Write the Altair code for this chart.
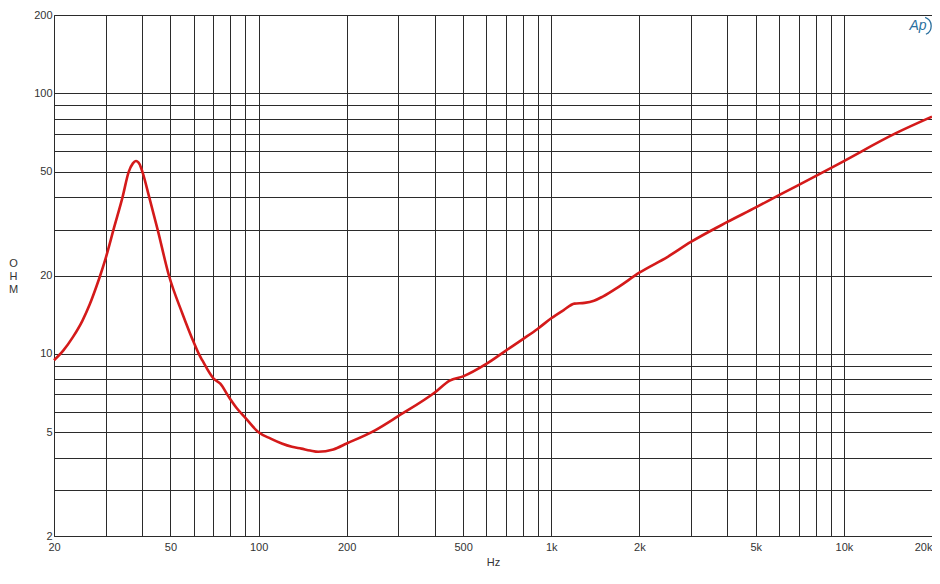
import json
import altair as alt
import pandas as pd

# ---- data ----
freq_hz = [20, 21.5, 23.2, 25, 26.5, 28, 28.6, 29.9, 32.2, 34.3, 36, 37.2, 38.1, 39.2, 40.1, 42.3, 45.2, 49.4,
           54.9, 60, 62.5, 64.2, 70.2, 74, 79.1, 84.4, 90, 100, 110, 120, 130, 140, 150, 160, 180, 200,
           250, 300, 400, 450, 500, 600, 700, 800, 900, 1000, 1100, 1200, 1300, 1400, 1500,
           1700, 2000, 2500, 3000, 4000, 5000, 6000, 8000, 10000, 15000, 20000]
impedance_ohm = [9.46, 10.3, 11.6, 13.4, 15.5, 18.3, 19.6, 22.9, 31, 40, 50, 53.9, 55, 53.5, 50, 40, 30, 20,
                 14.3, 11.1, 10.0, 9.46, 8.04, 7.69, 6.84, 6.17, 5.70, 5.0, 4.73, 4.53, 4.40, 4.33, 4.26, 4.21, 4.30, 4.53,
                 5.09, 5.77, 7.11, 7.9, 8.2, 9.15, 10.3, 11.4, 12.5, 13.7, 14.7, 15.6, 15.7, 16.0, 16.6,
                 18.1, 20.5, 23.6, 26.9, 32.1, 36.5, 40.7, 48.1, 55.0, 70.2, 81.4]

x_grid = [20, 30, 40, 50, 60, 70, 80, 90, 100, 200, 300, 400, 500, 600, 700, 800, 900,
          1000, 2000, 3000, 4000, 5000, 6000, 7000, 8000, 9000, 10000, 20000]
x_labels = [20, 50, 100, 200, 500, 1000, 2000, 5000, 10000, 20000]
y_grid = [2, 3, 4, 5, 6, 7, 8, 9, 10, 20, 30, 40, 50, 60, 70, 80, 90, 100, 200]
y_labels = [2, 5, 10, 20, 50, 100, 200]

df = pd.DataFrame({"f": freq_hz, "z": impedance_ohm})

FONT = "Liberation Sans, Arial, sans-serif"
GRID = "#2b2b2b"
TXT = "#333333"

x_expr = (f"indexof({json.dumps(x_labels)}, datum.value) >= 0 ? "
          "(datum.value >= 1000 ? (datum.value / 1000) + 'k' : '' + datum.value) : ''")
y_expr = f"indexof({json.dumps(y_labels)}, datum.value) >= 0 ? '' + datum.value : ''"

line = alt.Chart(df).mark_line(color="#d41a1a", strokeWidth=2.6, interpolate="monotone").encode(
    x=alt.X("f:Q",
            scale=alt.Scale(type="log", domain=[20, 20000], nice=False),
            axis=alt.Axis(values=x_grid, labelExpr=x_expr, title="Hz",
                          grid=True, gridColor=GRID, gridOpacity=1, gridWidth=1,
                          ticks=False, tickSize=0, labelPadding=5,
                          labelFont=FONT, labelFontSize=11, labelColor=TXT,
                          labelAlign={"expr": "datum.value >= 20000 ? 'right' : 'center'"},
                          labelOverlap=False,
                          domainColor=GRID,
                          titleFont=FONT, titleFontSize=11, titleFontWeight="normal",
                          titleColor=TXT, titleY=29, titleBaseline="alphabetic")),
    y=alt.Y("z:Q",
            scale=alt.Scale(type="log", domain=[2, 200], nice=False),
            axis=alt.Axis(values=y_grid, labelExpr=y_expr, title=["O", "H", "M"],
                          grid=True, gridColor=GRID, gridOpacity=1, gridWidth=1,
                          ticks=False, tickSize=0, labelPadding=2,
                          labelFont=FONT, labelFontSize=11, labelColor=TXT,
                          labelOverlap=False,
                          domainColor=GRID,
                          titleFont=FONT, titleFontSize=11, titleFontWeight="normal",
                          titleColor=TXT, titleAngle=0, titleX=-41, titleY=248,
                          titleAlign="center", titleBaseline="middle", titleLineHeight=13)),
)

logo_df = pd.DataFrame({"t": ["Ap"]})
logo_text = alt.Chart(logo_df).mark_text(
    font=FONT, fontSize=14, fontStyle="italic", color="#2a6f9e", align="center", baseline="middle"
).encode(text="t:N", x=alt.value(864), y=alt.value(11))
logo_arc = alt.Chart(logo_df).mark_arc(
    theta=0.35, theta2=2.7, innerRadius=8.5, radius=9.8, color="#2a6f9e"
).encode(x=alt.value(868), y=alt.value(11))

chart = alt.layer(line, logo_text, logo_arc).properties(
    width=878, height=521,
    autosize=alt.AutoSizeParams(type="none"),
    padding={"left": 46, "top": 7, "right": 0, "bottom": 31},
).configure_view(stroke=GRID, strokeWidth=1).configure(background="white")

chart.save("out.html", embed_options={"renderer": "svg", "actions": False})
